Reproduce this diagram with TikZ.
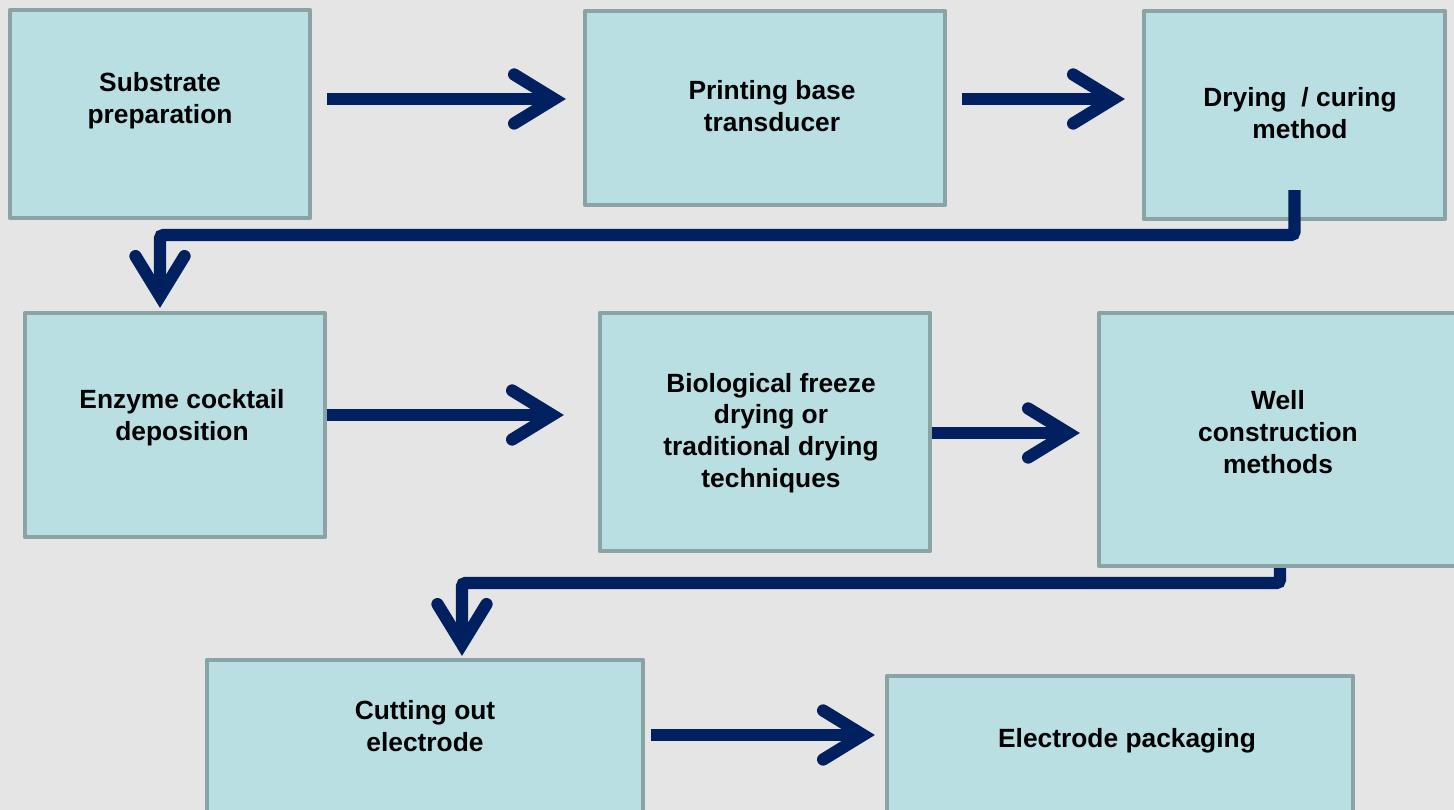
\documentclass[tikz,border=0pt]{standalone}
\usepackage{fontspec}
\setmainfont{Liberation Sans}
\usetikzlibrary{arrows.meta,fit}
\definecolor{pagebg}{HTML}{E5E5E5}
\definecolor{boxfill}{HTML}{B9DFE3}
\definecolor{boxline}{HTML}{8AA4A6}
\definecolor{flowblue}{HTML}{002060}
\begin{document}
\begin{tikzpicture}[x=0.02cm, y=-0.02cm,
  box/.style={draw=boxline, fill=boxfill, line width=2.4pt, line join=round, inner sep=0pt},
  txt/.style={align=center, font=\bfseries\fontsize{15}{18.1}\selectfont},
  flow/.style={draw=flowblue, line width=7pt, rounded corners=2pt,
    -{Straight Barb[length=0.8cm, width=0.98cm, line cap=round, line join=miter]}}]

\useasboundingbox (0,0) rectangle (1454,810);
\fill [pagebg] (0,0) rectangle (1454,810);
\clip (0,0) rectangle (1454,810);

\node [box, fit={(10,10) (310,218)}] (sub) {};
\node [box, fit={(585,11) (945,205)}] (print) {};
\node [box, fit={(1144,11) (1445,219)}] (dry) {};
\node [box, fit={(25,313) (325,537)}] (enz) {};
\node [box, fit={(600,313) (930,551)}] (bio) {};
\node [box, fit={(1099,313) (1461,566)}] (well) {};
\node [box, fit={(207,660) (643,830)}] (cut) {};
\node [box, fit={(887,676) (1353,830)}] (pack) {};

\node [txt] (subtxt) at (160,101) {Substrate\\preparation};
\node [txt] (printtxt) at (772,106) {Printing base\\transducer};
\node [txt] (drytxt) at (1300,113) {Drying\ \ / curing\\method};
\node [txt] (enztxt) at (182,418) {Enzyme cocktail\\deposition};
\node [txt] (biotxt) at (771,433) {Biological freeze\\drying or\\traditional drying\\techniques};
\node [txt] (welltxt) at (1278,432) {Well\\construction\\methods};
\node [txt] (cuttxt) at (425,726) {Cutting out\\electrode};
\node [txt] (packtxt) at (1127,741) {Electrode packaging};

\coordinate (bend1) at (160,235);
\coordinate (bend2) at (462,583);
\coordinate (row1) at (0,99);
\coordinate (row2) at (0,415);
\coordinate (row3) at (651,735);

\draw [flow, shorten <=0.3cm, shorten >=0.34cm] (sub.east |- row1) -- (print.west |- row1);
\draw [flow, shorten <=0.3cm, shorten >=0.34cm] (print.east |- row1) -- (dry.west |- row1);
\draw [flow, shorten >=0.06cm] ([yshift=0.62cm]dry.south) |- (bend1) -- (bend1 |- enz.north);
\draw [flow, shorten >=0.68cm] (enz.east |- row2) -- (bio.west |- row2);
\draw [flow, shorten >=0.34cm] (bio.east |- biotxt) -- (well.west |- biotxt);
\draw [flow, shorten >=0.04cm] (well.south) |- (bend2) -- (bend2 |- cut.north);
\draw [flow, shorten >=0.2cm] (row3) -- (pack.west |- row3);
\end{tikzpicture}
\end{document}
